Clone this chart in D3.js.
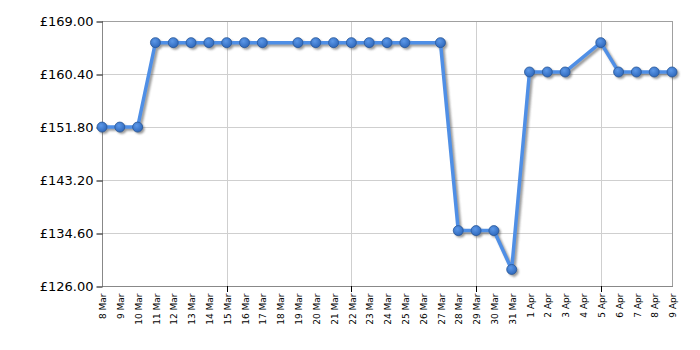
<!DOCTYPE html>
<html>
<head>
<meta charset="utf-8">
<script src="https://cdn.jsdelivr.net/npm/d3@7"></script>
<style>
  body { margin: 0; background: #fff; }
  svg { display: block; }
  text { font-family: "DejaVu Sans", Verdana, sans-serif; fill: #000; }
</style>
</head>
<body>
<svg id="chart" width="700" height="350"></svg>
<script>
const dates = ["8 Mar","9 Mar","10 Mar","11 Mar","12 Mar","13 Mar","14 Mar","15 Mar","16 Mar","17 Mar","18 Mar","19 Mar","20 Mar","21 Mar","22 Mar","23 Mar","24 Mar","25 Mar","26 Mar","27 Mar","28 Mar","29 Mar","30 Mar","31 Mar","1 Apr","2 Apr","3 Apr","4 Apr","5 Apr","6 Apr","7 Apr","8 Apr","9 Apr"];
// null = no price recorded that day (no marker in the reference)
const prices = [151.79,151.79,151.79,165.49,165.49,165.49,165.49,165.49,165.49,165.49,null,165.49,165.49,165.49,165.49,165.49,165.49,165.49,null,165.49,134.99,134.99,134.99,128.69,160.73,160.73,160.73,null,165.49,160.73,160.73,160.73,160.73];
const yTicks = [126.00, 134.60, 143.20, 151.80, 160.40, 169.00];
const weekTicks = ["15 Mar","22 Mar","29 Mar","5 Apr"];

const svg = d3.select("#chart");
const pL = 102, pR = 672, pT = 21, pB = 286;

const x = d3.scalePoint().domain(dates).range([pL, pR]);
const y = d3.scaleLinear().domain([126, 169]).range([pB, pT]);

const defs = svg.append("defs");
const f = defs.append("filter").attr("id","shadow").attr("x","-10%").attr("y","-10%").attr("width","120%").attr("height","120%");
f.append("feGaussianBlur").attr("stdDeviation", 1);
const g = defs.append("radialGradient").attr("id","dot").attr("cx","40%").attr("cy","35%").attr("r","65%");
g.append("stop").attr("offset","0%").attr("stop-color","#5c98e8");
g.append("stop").attr("offset","100%").attr("stop-color","#2f69bd");

// grid
svg.append("g").selectAll("line").data(yTicks).join("line")
  .attr("x1", pL).attr("x2", pR)
  .attr("y1", d => Math.round(y(d)) + 0.5).attr("y2", d => Math.round(y(d)) + 0.5)
  .attr("stroke", "#cfcfcf").attr("stroke-width", 1);
svg.append("g").selectAll("line").data(weekTicks).join("line")
  .attr("x1", d => Math.round(x(d)) + 0.5).attr("x2", d => Math.round(x(d)) + 0.5)
  .attr("y1", pT).attr("y2", pB)
  .attr("stroke", "#cfcfcf").attr("stroke-width", 1);

// frame
svg.append("rect").attr("x", pL + 0.5).attr("y", pT + 0.5)
  .attr("width", pR - pL).attr("height", pB - pT)
  .attr("fill", "none").attr("stroke", "#a0a0a0");
svg.append("line").attr("x1", pL + 0.5).attr("x2", pL + 0.5).attr("y1", pT).attr("y2", pB + 1)
  .attr("stroke", "#888");
svg.append("line").attr("x1", pL).attr("x2", pR + 1).attr("y1", pB + 0.5).attr("y2", pB + 0.5)
  .attr("stroke", "#888");

// y axis
const yAxis = svg.append("g").attr("transform", `translate(${pL + 0.5},0.5)`)
  .call(d3.axisLeft(y).tickValues(yTicks).tickSize(6).tickPadding(3).tickFormat(d => "£" + d.toFixed(2)));
yAxis.select(".domain").remove();
yAxis.selectAll(".tick line").attr("stroke", "#000");
yAxis.selectAll("text").style("font-size", "13px");

// x axis
const xAxis = svg.append("g").attr("transform", `translate(0.5,${pB + 0.5})`)
  .call(d3.axisBottom(x).tickSize(0));
xAxis.select(".domain").remove();
xAxis.selectAll("text")
  .style("font-size", "9px")
  .attr("transform", "rotate(-90)")
  .attr("text-anchor", "end")
  .attr("x", -7).attr("y", 0).attr("dy", "0.35em");
svg.append("g").selectAll("line").data(weekTicks).join("line")
  .attr("x1", d => Math.round(x(d)) + 0.5).attr("x2", d => Math.round(x(d)) + 0.5)
  .attr("y1", pB).attr("y2", pB + 6)
  .attr("stroke", "#000");

// series
const pts = dates.map((d, i) => ({date: d, price: prices[i]})).filter(p => p.price !== null);
const line = d3.line().x(d => x(d.date)).y(d => y(d.price));

const sh = svg.append("g").attr("transform", "translate(2,2)").attr("filter", "url(#shadow)").attr("opacity", 0.6);
sh.append("path").datum(pts).attr("d", line).attr("fill", "none").attr("stroke", "#555").attr("stroke-width", 3.5);
sh.selectAll("circle").data(pts).join("circle")
  .attr("cx", d => x(d.date)).attr("cy", d => y(d.price)).attr("r", 5).attr("fill", "#555");

svg.append("path").datum(pts).attr("d", line).attr("fill", "none")
  .attr("stroke", "#4f8fe6").attr("stroke-width", 3.5).attr("stroke-linejoin", "round");
svg.append("g").selectAll("circle").data(pts).join("circle")
  .attr("cx", d => x(d.date)).attr("cy", d => y(d.price)).attr("r", 5)
  .attr("fill", "url(#dot)").attr("stroke", "#2a5898").attr("stroke-width", 0.8);
</script>
</body>
</html>
